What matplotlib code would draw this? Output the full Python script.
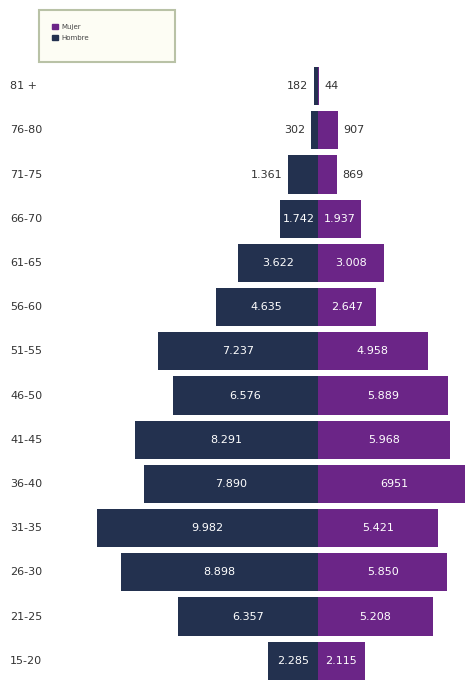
import numpy as np
import matplotlib.pyplot as plt
from matplotlib.transforms import blended_transform_factory
from matplotlib.patches import Patch, Rectangle

# Age groups, oldest at the top
age_groups = ['81 +', '76-80', '71-75', '66-70', '61-65', '56-60', '51-55',
              '46-50', '41-45', '36-40', '31-35', '26-30', '21-25', '15-20']
hombres = [182, 302, 1361, 1742, 3622, 4635, 7237, 6576, 8291, 7890, 9982,
           8898, 6357, 2285]
mujeres = [44, 907, 869, 1937, 3008, 2647, 4958, 5889, 5968, 6951, 5421,
           5850, 5208, 2115]
hombre_labels = ['182', '302', '1.361', '1.742', '3.622', '4.635', '7.237',
                 '6.576', '8.291', '7.890', '9.982', '8.898', '6.357', '2.285']
mujer_labels = ['44', '907', '869', '1.937', '3.008', '2.647', '4.958',
                '5.889', '5.968', '6951', '5.421', '5.850', '5.208', '2.115']

navy = '#23314f'
purple = '#6b2587'

W, H = 465, 680
fig = plt.figure(figsize=(W / 100, H / 100), dpi=100)
fig.patch.set_facecolor('white')

# axes spans x 75..465 px, y 64..680 px; zero line at x=318 px
ax = fig.add_axes([75 / W, 0, 1 - 75 / W, (680 - 64) / H])
px_per_unit = 22.1 / 1000
ax.set_xlim(-(318 - 75) / px_per_unit, (465 - 318) / px_per_unit)
ax.set_ylim(-0.5 + 616 / 44.2, -0.5)
ax.axis('off')

y = np.arange(len(age_groups))
ax.barh(y, [-v for v in hombres], height=0.86, color=navy)
ax.barh(y, mujeres, height=0.86, color=purple)

small = 1500
fs = 8
for i in range(len(age_groups)):
    h, m = hombres[i], mujeres[i]
    if h < small:
        ax.text(-h - 250, i, hombre_labels[i], ha='right', va='center',
                fontsize=fs, color='#333333')
    else:
        ax.text(-h / 2, i, hombre_labels[i], ha='center', va='center',
                fontsize=fs, color='white')
    if m < small:
        ax.text(m + 250, i, mujer_labels[i], ha='left', va='center',
                fontsize=fs, color='#333333')
    else:
        ax.text(m / 2, i, mujer_labels[i], ha='center', va='center',
                fontsize=fs, color='white')

# age group labels on the far left
trans = blended_transform_factory(fig.transFigure, ax.transData)
for i, g in enumerate(age_groups):
    ax.text(10 / W, i, g, transform=trans, ha='left', va='center',
            fontsize=fs, color='#333333', clip_on=False)

# legend box
box = Rectangle((39 / W, 1 - 62 / H), 136 / W, 52 / H, transform=fig.transFigure,
                facecolor='#fdfdf4', edgecolor='#b9c2a6', linewidth=1.5)
fig.patches.append(box)
handles = [Patch(color=purple, label='Mujer'), Patch(color=navy, label='Hombre')]
leg = fig.legend(handles=handles, loc='upper left',
                 bbox_to_anchor=(52 / W, 1 - 24 / H), fontsize=5,
                 frameon=False, handlelength=0.8, handleheight=0.8,
                 handletextpad=0.5, labelspacing=0.7, borderpad=0,
                 borderaxespad=0)
for t in leg.get_texts():
    t.set_color('#444444')

fig.savefig('out.png', dpi=100)
